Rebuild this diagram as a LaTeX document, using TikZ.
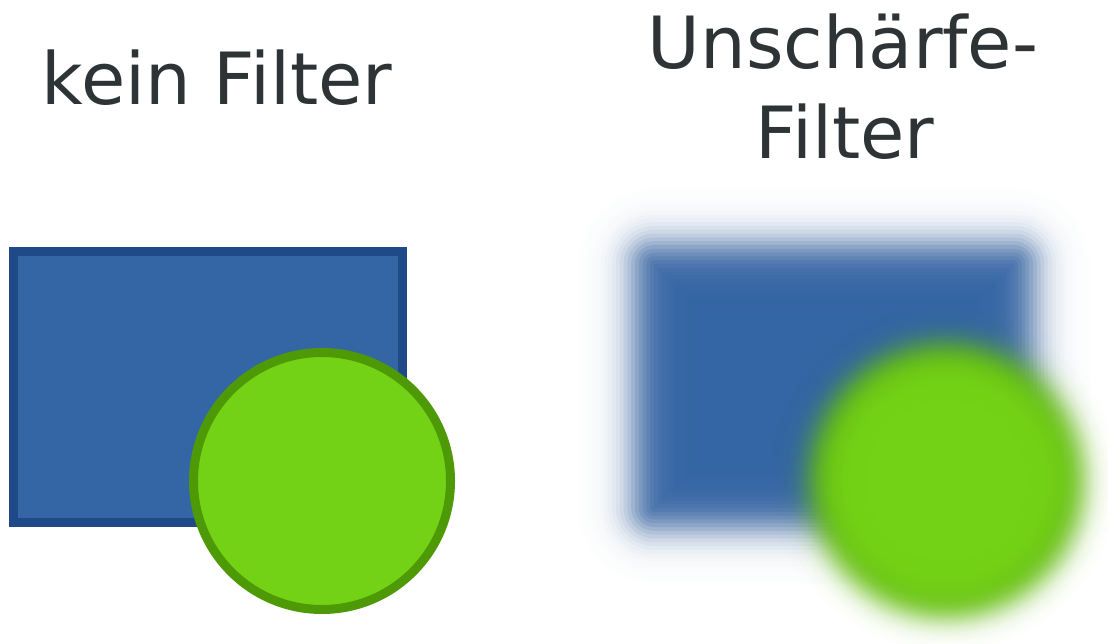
\documentclass[tikz,border=0pt]{standalone}
\usepackage{fontspec}
\usetikzlibrary{fadings}
\setmainfont{DejaVu Sans}
\definecolor{txtc}{HTML}{2E3436}
\definecolor{rectfill}{HTML}{3465A4}
\definecolor{rectline}{HTML}{204A87}
\definecolor{circfill}{HTML}{73D216}
\definecolor{circline}{HTML}{4E9A06}
\colorlet{circlineblur}{circline!65!circfill}
% radial Gaussian edge profiles (sigma = 15pt) for the blurred circle
\pgfdeclareradialshading{blurshadeA}{\pgfpointorigin}{%
  color(0pt)=(pgftransparent!0); color(88pt)=(pgftransparent!0.13);
  color(95.5pt)=(pgftransparent!0.62); color(103pt)=(pgftransparent!2.28);
  color(110.5pt)=(pgftransparent!6.68); color(118pt)=(pgftransparent!15.87);
  color(125.5pt)=(pgftransparent!30.85); color(133pt)=(pgftransparent!50);
  color(140.5pt)=(pgftransparent!69.15); color(148pt)=(pgftransparent!84.13);
  color(155.5pt)=(pgftransparent!93.32); color(163pt)=(pgftransparent!97.72);
  color(170.5pt)=(pgftransparent!99.38); color(178pt)=(pgftransparent!99.87);
  color(185pt)=(pgftransparent!100); color(200pt)=(pgftransparent!100)}
\pgfdeclareradialshading{blurshadeB}{\pgfpointorigin}{%
  color(0pt)=(pgftransparent!0); color(79pt)=(pgftransparent!0.13);
  color(86.5pt)=(pgftransparent!0.62); color(94pt)=(pgftransparent!2.28);
  color(101.5pt)=(pgftransparent!6.68); color(109pt)=(pgftransparent!15.87);
  color(116.5pt)=(pgftransparent!30.85); color(124pt)=(pgftransparent!50);
  color(131.5pt)=(pgftransparent!69.15); color(139pt)=(pgftransparent!84.13);
  color(146.5pt)=(pgftransparent!93.32); color(154pt)=(pgftransparent!97.72);
  color(161.5pt)=(pgftransparent!99.38); color(169pt)=(pgftransparent!99.87);
  color(176pt)=(pgftransparent!100); color(200pt)=(pgftransparent!100)}
\pgfdeclarefading{blurfadeA}{\pgfuseshading{blurshadeA}}
\pgfdeclarefading{blurfadeB}{\pgfuseshading{blurshadeB}}
% blurred rectangle as nested opaque layers: x1 y1 x2 y2 (outer edge), sigma, stroke width
\newcommand\myblurrect[6]{%
  \foreach \bj in {0,...,33}{%
    \pgfmathsetmacro\bz{3-0.2*\bj}%
    \pgfmathsetmacro\bdd{\bz*#5}%
    \pgfmathsetmacro\bm{\bz-0.1}%
    \pgfmathsetmacro\bA{1/(1+exp(1.702*\bm))}%
    \pgfmathsetmacro\bF{1/(1+exp(1.702*(\bm+#6/#5)))}%
    \pgfmathsetmacro\bpa{100*\bA}%
    \pgfmathsetmacro\bpf{100*\bF/\bA}%
    \pgfmathsetmacro\brr{max(\bdd+#5,1)}%
    \colorlet{blurcol}{rectfill!\bpf!rectline!\bpa!white}%
    \fill[blurcol, rounded corners=\brr pt] (#1-\bdd,#2-\bdd) rectangle (#3+\bdd,#4+\bdd);
  }%
  \pgfmathsetmacro\bdd{-3.8*#5}%
  \fill[rectfill] (#1-\bdd,#2-\bdd) rectangle (#3+\bdd,#4+\bdd);
}
\begin{document}
\begin{tikzpicture}[x=1pt,y=-1pt,
  title/.style={anchor=base, text=txtc, inner sep=0pt, font=\fontsize{72}{90}\selectfont}]
\useasboundingbox (0,0) rectangle (1108,644);
\clip (0,0) rectangle (1108,644);
% titles
\node[title] (t1) at (217,104.5) {kein Filter};
\node[title] (t2a) at (843,69) {Unschärfe-};
\node[title] (t2b) at (845,159) {Filter};
% left: sharp shapes
\draw[line width=9pt, draw=rectline, fill=rectfill] (13.5,251.5) rectangle (402.5,522.5);
\draw[line width=9pt, draw=circline, fill=circfill] (322,481) circle[radius=128.5];
% right: blurred shapes
\myblurrect{635}{245}{1033}{527}{19}{9}
\coordinate (bc) at (946,480);
\fill[circlineblur, path fading=blurfadeA, fit fading=false, fading transform={shift={(bc)}}] (bc) circle[radius=190];
\fill[circfill, path fading=blurfadeB, fit fading=false, fading transform={shift={(bc)}}] (bc) circle[radius=190];
\end{tikzpicture}
\end{document}
